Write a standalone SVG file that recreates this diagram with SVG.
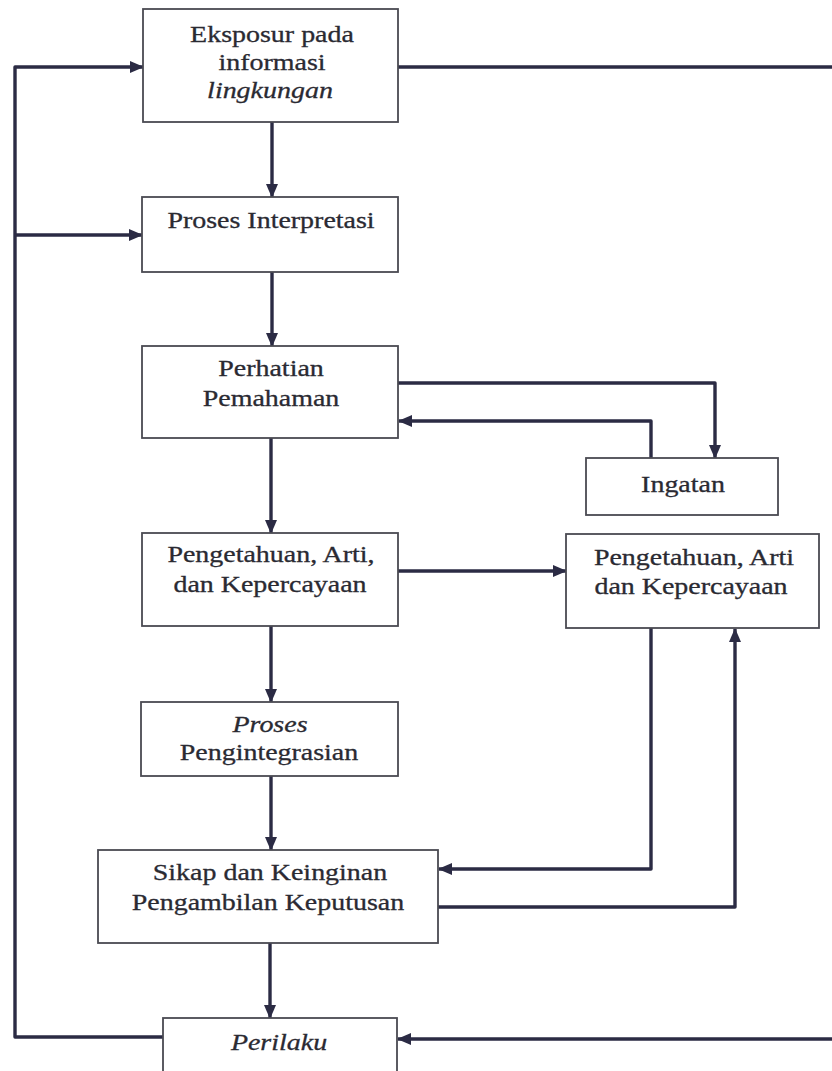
<svg xmlns="http://www.w3.org/2000/svg" width="832" height="1071" viewBox="0 0 832 1071">
<style>
.box{fill:#ffffff;stroke:#4a4a52;stroke-width:1.8}
.t{font-family:"Liberation Serif","Times New Roman",serif;font-size:23.5px;fill:#2a2a32;stroke:#2a2a32;stroke-width:0.3;text-anchor:middle}
.i{font-style:italic}
.c{fill:none;stroke:#2b2b44;stroke-width:3.4;stroke-linejoin:round}
</style>
<defs>
<marker id="ah" markerUnits="userSpaceOnUse" markerWidth="14" markerHeight="12" viewBox="0 0 14 12" refX="13" refY="6" orient="auto">
<path d="M0,0 L14,6 L0,12 Z" fill="#2b2b44"/>
</marker>
</defs>
<rect width="832" height="1071" fill="#ffffff"/>
<g id="connectors">
<path class="c" d="M272,122 V197" marker-end="url(#ah)"/>
<path class="c" d="M272,272 V346" marker-end="url(#ah)"/>
<path class="c" d="M271,438 V533" marker-end="url(#ah)"/>
<path class="c" d="M271,626 V702" marker-end="url(#ah)"/>
<path class="c" d="M271,776 V850" marker-end="url(#ah)"/>
<path class="c" d="M270,943 V1018" marker-end="url(#ah)"/>
<path class="c" d="M398,383 H715 V458" marker-end="url(#ah)"/>
<path class="c" d="M651,458 V421 H399" marker-end="url(#ah)"/>
<path class="c" d="M398,571 H566" marker-end="url(#ah)"/>
<path class="c" d="M651,628 V869 H439" marker-end="url(#ah)"/>
<path class="c" d="M438,907 H735 V629" marker-end="url(#ah)"/>
<path class="c" d="M163,1037 H15 V67 H143" marker-end="url(#ah)"/>
<path class="c" d="M15,235 H142" marker-end="url(#ah)"/>
<path class="c" d="M398,67 H850 V1039 H398" marker-end="url(#ah)"/>
</g>
<g id="eksposur">
<rect class="box" x="143" y="9" width="255" height="113"/>
<text class="t" transform="matrix(1.19,0,0,1,272,42)">Eksposur pada</text>
<text class="t" transform="matrix(1.19,0,0,1,272,70)">informasi</text>
<text class="t i" transform="matrix(1.19,0,0,1,270,98)">lingkungan</text>
</g>
<g id="interpretasi">
<rect class="box" x="142" y="197" width="256" height="75"/>
<text class="t" transform="matrix(1.19,0,0,1,271,228)">Proses Interpretasi</text>
</g>
<g id="perhatian">
<rect class="box" x="142" y="346" width="256" height="92"/>
<text class="t" transform="matrix(1.19,0,0,1,271,376)">Perhatian</text>
<text class="t" transform="matrix(1.19,0,0,1,271,406)">Pemahaman</text>
</g>
<g id="ingatan">
<rect class="box" x="586" y="458" width="192" height="57"/>
<text class="t" transform="matrix(1.19,0,0,1,683,492)">Ingatan</text>
</g>
<g id="pengetahuan1">
<rect class="box" x="142" y="533" width="256" height="93"/>
<text class="t" transform="matrix(1.19,0,0,1,271,562)">Pengetahuan, Arti,</text>
<text class="t" transform="matrix(1.19,0,0,1,270,592)">dan Kepercayaan</text>
</g>
<g id="pengetahuan2">
<rect class="box" x="566" y="534" width="253" height="94"/>
<text class="t" transform="matrix(1.19,0,0,1,694,565)">Pengetahuan, Arti</text>
<text class="t" transform="matrix(1.19,0,0,1,691,594)">dan Kepercayaan</text>
</g>
<g id="pengintegrasian">
<rect class="box" x="141" y="702" width="257" height="74"/>
<text class="t i" transform="matrix(1.19,0,0,1,270,732)">Proses</text>
<text class="t" transform="matrix(1.19,0,0,1,269,760)">Pengintegrasian</text>
</g>
<g id="sikap">
<rect class="box" x="98" y="850" width="340" height="93"/>
<text class="t" transform="matrix(1.19,0,0,1,270,880)">Sikap dan Keinginan</text>
<text class="t" transform="matrix(1.19,0,0,1,268,910)">Pengambilan Keputusan</text>
</g>
<g id="perilaku">
<rect class="box" x="163" y="1018" width="234" height="70"/>
<text class="t i" transform="matrix(1.19,0,0,1,279,1050)">Perilaku</text>
</g>
</svg>
